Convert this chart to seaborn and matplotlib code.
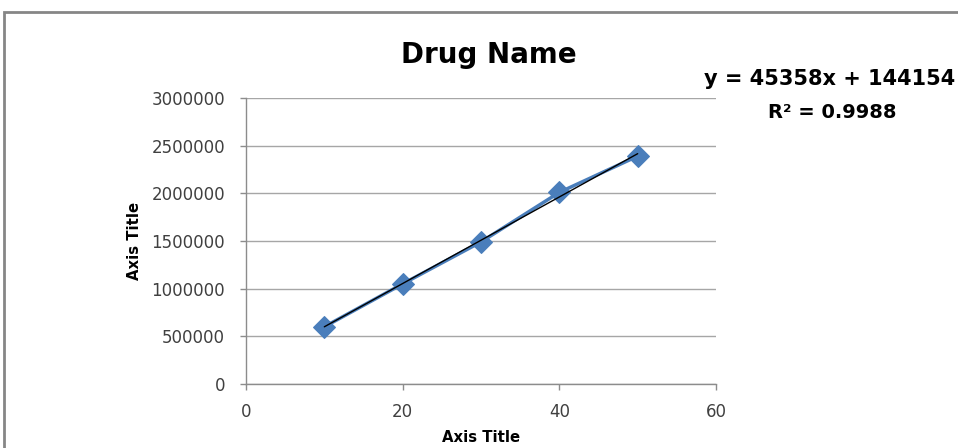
import numpy as np
import pandas as pd
import matplotlib
matplotlib.use("Agg")
import matplotlib.pyplot as plt
from matplotlib.patches import Rectangle
import seaborn as sns

# values
conc = [10, 20, 30, 40, 50]
response = [600000, 1050000, 1490000, 2010000, 2390000]
y_ticks = [0, 500000, 1000000, 1500000, 2000000, 2500000, 3000000]
x_ticks = [0, 20, 40, 60]
title = "Drug Name"
eq_line = "y = 45358x + 144154"
r2_line = "R² = 0.9988"

df = pd.DataFrame({"conc": conc, "response": response})

sns.set_theme(style="white")
plt.rcParams["font.family"] = ["DejaVu Sans"]

fig = plt.figure(figsize=(9.58, 4.48), dpi=100)
ax = fig.add_axes([246 / 958, 64 / 448, 470 / 958, 286 / 448])

sns.lineplot(data=df, x="conc", y="response", ax=ax, color="#4a7ebb", lw=2.5,
             marker="D", markersize=11, markeredgecolor="#4a7ebb", zorder=3)

# linear trendline
slope, intercept = np.polyfit(conc, response, 1)
xs = np.array([min(conc), max(conc)])
ax.plot(xs, slope * xs + intercept, color="black", lw=1, zorder=4)

ax.set_xlim(0, 60)
ax.set_ylim(0, 3000000)
ax.set_xticks(x_ticks)
ax.set_yticks(y_ticks)
ax.set_xticklabels([str(t) for t in x_ticks], fontsize=12, color="#404040")
ax.set_yticklabels([str(t) for t in y_ticks], fontsize=12, color="#404040")
ax.grid(axis="y", color="#a6a6a6", lw=1)
ax.set_axisbelow(True)
for side in ["top", "right"]:
    ax.spines[side].set_visible(False)
for side in ["left", "bottom"]:
    ax.spines[side].set_color("#8c8c8c")
    ax.spines[side].set_linewidth(1)
ax.tick_params(axis="both", direction="out", length=4, width=1, color="#8c8c8c",
               left=True, bottom=True)
ax.tick_params(axis="y", pad=11)
ax.tick_params(axis="x", pad=10)

ax.set_xlabel("Axis Title", fontsize=10.7, fontweight="bold", labelpad=6, color="black")
ax.set_ylabel("Axis Title", fontsize=10.7, fontweight="bold", labelpad=7, color="black")

fig.text(489 / 958, 1 - 63 / 448, title, ha="center", va="baseline",
         fontsize=20, fontweight="bold", color="black")
fig.text(830 / 958, 1 - 79 / 448, eq_line, ha="center", va="center",
         fontsize=15, fontweight="bold", color="black")
fig.text(832 / 958, 1 - 113 / 448, r2_line, ha="center", va="center",
         fontsize=14, fontweight="bold", color="black")

# outer chart border (runs off the right and bottom edges)
fig.patches.append(Rectangle((4 / 958, -0.1), 1.2, 1 - 12 / 448 + 0.1,
                             transform=fig.transFigure, fill=False,
                             edgecolor="#868686", lw=2))

fig.savefig("out.png", dpi=100)
